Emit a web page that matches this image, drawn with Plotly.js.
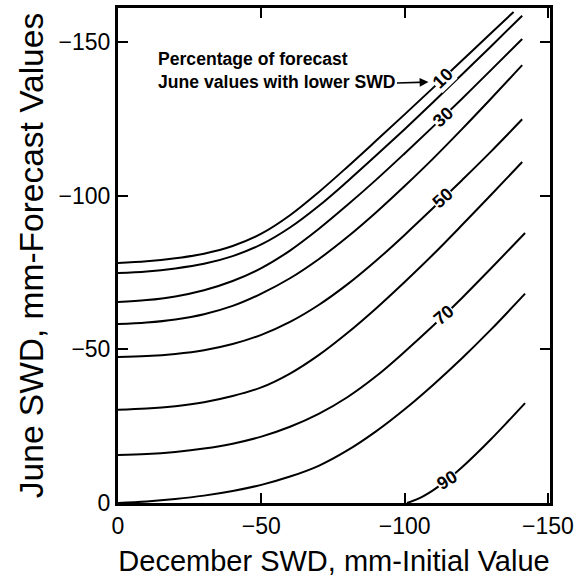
<!DOCTYPE html>
<html>
<head>
<meta charset="utf-8">
<script src="https://cdn.plot.ly/plotly-3.0.1.min.js"></script>
<style>html,body{margin:0;padding:0;background:#fff;}#chart{width:577px;height:581px;}</style>
</head>
<body>
<div id="chart"></div>
<script>
// Percent levels (forecast June values with lower SWD)
const levels = ['10','20','30','40','50','60','70','80','90'];

// December SWD (x) and June SWD (y), mm
const x10 = [0, -10, -20, -30, -40, -50, -60, -70, -80, -90, -100, -110, -120, -130, -138];
const y10 = [-78.1, -78.6, -79.6, -81.1, -83.6, -87.6, -93.6, -101.1, -109.3, -117.8, -126.4, -135.1, -143.9, -152.7, -159.7];
const x20 = [0, -10, -20, -30, -40, -50, -60, -70, -80, -90, -100, -110, -120, -130, -141];
const y20 = [-74.8, -75.3, -76.3, -77.8, -80.3, -84.1, -89.6, -96.6, -104.6, -113.0, -121.6, -130.4, -139.4, -148.4, -158.5];
const x30 = [0, -10, -20, -30, -40, -50, -60, -70, -80, -90, -100, -110, -120, -130, -141];
const y30 = [-65.4, -66.0, -67.2, -69.2, -72.2, -76.4, -82.1, -89.1, -96.9, -105.1, -113.7, -122.5, -131.5, -140.7, -150.9];
const x40 = [0, -10, -20, -30, -40, -50, -60, -70, -80, -90, -100, -110, -120, -130, -141];
const y40 = [-58.2, -58.7, -59.7, -61.4, -64.1, -68.1, -73.1, -79.3, -86.5, -94.5, -103.1, -112.1, -121.6, -131.4, -142.4];
const x50 = [0, -10, -20, -30, -40, -50, -60, -70, -80, -90, -100, -110, -120, -130, -141];
const y50 = [-47.5, -47.8, -48.5, -49.7, -51.7, -54.7, -58.9, -64.4, -71.1, -78.8, -87.2, -96.0, -105.0, -114.2, -124.8];
const x60 = [0, -10, -20, -30, -40, -50, -60, -70, -80, -90, -100, -110, -120, -130, -141];
const y60 = [-30.3, -30.7, -31.5, -32.8, -34.8, -37.6, -42.1, -48.1, -55.3, -63.3, -71.9, -80.9, -90.4, -100.1, -110.9];
const x70 = [0, -10, -20, -30, -40, -50, -60, -70, -80, -90, -100, -110, -120, -130, -142];
const y70 = [-15.6, -15.9, -16.6, -17.7, -19.3, -21.6, -24.8, -29.0, -34.4, -41.2, -49.2, -57.7, -66.7, -76.2, -87.8];
const x80 = [0, -10, -20, -30, -40, -50, -60, -70, -80, -90, -100, -110, -120, -130, -142];
const y80 = [0, -0.5, -1.3, -2.4, -3.9, -5.9, -8.6, -12.1, -17.1, -23.3, -30.5, -38.5, -47.1, -56.3, -68.1];
const x90 = [-100.8, -105, -110, -115, -120, -125, -130, -135, -142];
const y90 = [0, -1.5, -4.2, -7.6, -11.6, -16.0, -20.65, -25.5, -32.5];

// Axis ticks
const tickVals = [0, -50, -100, -150];
const tickText = ['0', '\u221250', '\u2212100', '\u2212150'];

// Inline contour labels: which curves and at which December SWD
const labelLevels = ['10', '30', '50', '70', '90'];
const labelX = [-113.4, -113.4, -113.4, -113.7, -114.8];
const labelAngle = [-44, -43, -42, -40, -32];

const curvesX = [x10, x20, x30, x40, x50, x60, x70, x80, x90];
const curvesY = [y10, y20, y30, y40, y50, y60, y70, y80, y90];

function interp(xs, ys, x) {
  for (let i = 0; i < xs.length - 1; i++) {
    const a = xs[i], b = xs[i + 1];
    if ((x <= a && x >= b) || (x >= a && x <= b)) {
      const t = (x - a) / (b - a);
      return ys[i] + t * (ys[i + 1] - ys[i]);
    }
  }
  return ys[ys.length - 1];
}

const FONT = '"Liberation Sans", Arial, Helvetica, sans-serif';

const traces = levels.map((lv, i) => ({
  type: 'scatter', mode: 'lines', name: lv + '%',
  x: curvesX[i], y: curvesY[i],
  line: {color: '#000', width: 2, shape: 'spline', smoothing: 1},
  hoverinfo: 'x+y+name', showlegend: false
}));

const annotations = labelLevels.map((lv, j) => {
  const k = levels.indexOf(lv);
  return {
    x: labelX[j], y: interp(curvesX[k], curvesY[k], labelX[j]),
    xref: 'x', yref: 'y', text: '<b>' + lv + '</b>', showarrow: false,
    textangle: labelAngle[j], bgcolor: '#fff', borderpad: 0,
    font: {family: FONT, size: 18, color: '#000'}
  };
});

annotations.push({
  x: -13.2, y: -140.6, xref: 'x', yref: 'y', xanchor: 'left', yanchor: 'middle',
  align: 'left', showarrow: false,
  text: '<b>Percentage of forecast</b><br><b>June values with lower SWD</b>',
  font: {family: FONT, size: 17.6, color: '#000'}
});
annotations.push({
  x: -108.3, y: -136.9, xref: 'x', yref: 'y', ax: -96.8, ay: -136.6,
  axref: 'x', ayref: 'y', text: '', showarrow: true,
  arrowhead: 2, arrowsize: 1.1, arrowwidth: 1.6, arrowcolor: '#000'
});

const axisCommon = {
  showline: true, linecolor: '#000', linewidth: 3, mirror: 'ticks',
  ticks: 'inside', ticklen: 10, tickwidth: 2, tickcolor: '#000',
  showgrid: false, zeroline: false, tickmode: 'array',
  tickvals: tickVals, ticktext: tickText,
  tickfont: {family: FONT, size: 23, color: '#000'}
};

const layout = {
  width: 577, height: 581,
  margin: {l: 118, r: 27, t: 8, b: 78},
  paper_bgcolor: '#fff', plot_bgcolor: '#fff',
  xaxis: Object.assign({}, axisCommon, {
    range: [0, -150.7],
    title: {text: 'December SWD, mm-Initial Value', standoff: 14,
            font: {family: FONT, size: 29, color: '#000'}}
  }),
  yaxis: Object.assign({}, axisCommon, {
    range: [0, -161],
    title: {text: 'June SWD, mm-Forecast Values', standoff: 5,
            font: {family: FONT, size: 33.5, color: '#000'}}
  }),
  annotations: annotations,
  showlegend: false
};

Plotly.newPlot('chart', traces, layout, {displayModeBar: false, staticPlot: true});
</script>
</body>
</html>
